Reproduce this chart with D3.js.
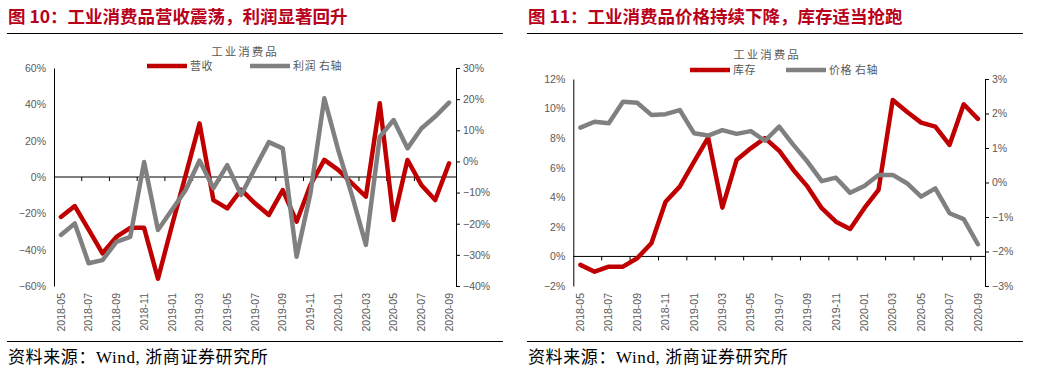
<!DOCTYPE html>
<html>
<head>
<meta charset="utf-8">
<script src="https://cdn.jsdelivr.net/npm/d3@7"></script>
<style>
  body { margin: 0; background: #fff; }
  svg { display: block; }
  .tick-label { font-family: 'Liberation Sans', Arial, sans-serif; fill: #595959; }
  .cn { font-family: 'Noto Sans CJK SC', sans-serif; }
</style>
</head>
<body>
<div id="chart"></div>
<script>
// month categories (shared by both charts)
const months = [
    '2018-05', '2018-06', '2018-07', '2018-08', '2018-09', '2018-10', '2018-11', '2018-12',
    '2019-01', '2019-02', '2019-03', '2019-04', '2019-05', '2019-06', '2019-07', '2019-08',
    '2019-09', '2019-10', '2019-11', '2019-12', '2020-01', '2020-02', '2020-03', '2020-04',
    '2020-05', '2020-06', '2020-07', '2020-08', '2020-09'
];
const monthLabels = months.filter((d, i) => i % 2 === 0);

// chart 10: revenue (left axis) and profit (right axis), %
const revenue = [-22, -16, -29, -42, -33, -28, -28, -56, -27, 1, 29.5, -12.7, -17.3, -7,
    -14.5, -20.9, -7.2, -24.6, -4.4, 9.4, 3.9, -3.5, -10.8, 40.6, -23.7, 9.4, -4.4, -12.7, 7.5];
const profit = [-23.6, -19.9, -32.7, -31.7, -25.8, -24.2, -0.2, -22, -15.6, -9.2, 0.3, -8.6, -1.2, -10.8,
    -2.2, 6.2, 4.2, -30.6, -10.2, 20.3, 3.7, -11, -26.8, 7.9, 13.3, 4.2, 10.6, 14.4, 18.9];
const leftTicks1 = [-60, -40, -20, 0, 20, 40, 60];
const rightTicks1 = [-40, -30, -20, -10, 0, 10, 20, 30];

// chart 11: inventory (left axis) and price (right axis), %
const inventory = [-0.57, -1.03, -0.69, -0.69, -0.12, 0.89, 3.7, 4.72, 6.4, 8.03, 3.3, 6.52, 7.31, 8.0,
    7.15, 5.85, 4.72, 3.26, 2.35, 1.86, 3.26, 4.5, 10.58, 9.79, 9.05, 8.78, 7.54, 10.29, 9.3];
const price = [1.59, 1.76, 1.72, 2.34, 2.31, 1.96, 1.98, 2.10, 1.43, 1.36, 1.52, 1.41, 1.49, 1.21,
    1.62, 1.09, 0.6, 0.04, 0.14, -0.3, -0.1, 0.22, 0.22, -0.02, -0.41, -0.17, -0.89, -1.06, -1.79];
const leftTicks2 = [-2, 0, 2, 4, 6, 8, 10, 12];
const rightTicks2 = [-3, -2, -1, 0, 1, 2, 3];

const RED = '#c00000';
const GRAY = '#808080';

const svg = d3.select('#chart').append('svg')
    .attr('width', 1039)
    .attr('height', 377);

const pct = d => (d < 0 ? '\u2212' : '') + Math.abs(d) + '%';

function drawPanel(cfg) {
    const g = svg.append('g').attr('transform', `translate(${cfg.x0},0)`);

    // figure title + rules
    g.append('text')
        .attr('class', 'cn')
        .attr('x', 8).attr('y', 23)
        .style('font-size', '17.5px').style('font-weight', 'bold')
        .attr('fill', '#b8001a')
        .text(cfg.title);
    g.append('line').attr('x1', 7).attr('x2', 503).attr('y1', 33.5).attr('y2', 33.5)
        .attr('stroke', '#000').attr('stroke-width', 1.2);
    g.append('line').attr('x1', 7).attr('x2', 503).attr('y1', 341.5).attr('y2', 341.5)
        .attr('stroke', '#000').attr('stroke-width', 1.2);
    g.append('text')
        .attr('x', 8).attr('y', 363)
        .style('font-family', "'Liberation Serif', 'Noto Sans CJK SC', serif")
        .style('font-size', '17px')
        .style('letter-spacing', '0.6px')
        .attr('fill', '#000')
        .text('资料来源：Wind, 浙商证券研究所');

    // scales
    const x = d3.scaleBand().domain(months).range([cfg.left, cfg.right]);
    const yL = d3.scaleLinear().domain(cfg.leftDomain).range([cfg.bottom, cfg.top]);
    const yR = d3.scaleLinear().domain(cfg.rightDomain).range([cfg.bottom, cfg.top]);
    const cx = d => x(d) + x.bandwidth() / 2;

    // left axis (line only, no ticks)
    const axL = g.append('g')
        .attr('transform', `translate(${cfg.left},0)`)
        .call(d3.axisLeft(yL).tickValues(cfg.leftTicks).tickSize(0).tickPadding(8).tickFormat(pct));
    axL.select('.domain').attr('stroke', '#000');
    axL.selectAll('text').attr('class', 'tick-label').style('font-size', '10.5px');

    // right axis with outward ticks
    const axR = g.append('g')
        .attr('transform', `translate(${cfg.right},0)`)
        .call(d3.axisRight(yR).tickValues(cfg.rightTicks).tickSizeInner(4).tickSizeOuter(4).tickPadding(3).tickFormat(pct));
    axR.selectAll('path, line').attr('stroke', '#000');
    axR.selectAll('text').attr('class', 'tick-label').style('font-size', '10.5px');

    // zero line with ticks every two categories
    const y0 = yL(0);
    g.append('line')
        .attr('x1', cfg.left).attr('x2', cfg.right)
        .attr('y1', y0).attr('y2', y0)
        .attr('stroke', '#000').attr('stroke-width', 1);
    g.selectAll('.xtick')
        .data(d3.range(2, months.length, 2))
        .join('line')
        .attr('class', 'xtick')
        .attr('x1', k => cfg.left + k * x.step()).attr('x2', k => cfg.left + k * x.step())
        .attr('y1', y0).attr('y2', y0 + 4)
        .attr('stroke', '#000');

    // rotated month labels at the bottom
    const axX = g.append('g')
        .attr('transform', `translate(0,${cfg.bottom + 6})`)
        .call(d3.axisBottom(x).tickValues(monthLabels).tickSize(0).tickPadding(0));
    axX.select('.domain').remove();
    axX.selectAll('text')
        .attr('class', 'tick-label')
        .style('font-size', '10.5px')
        .attr('transform', 'rotate(-90)')
        .attr('x', -1).attr('y', 0).attr('dy', '0.35em')
        .style('text-anchor', 'end');

    // lines
    const lineL = d3.line().x((d, i) => cx(months[i])).y(d => yL(d));
    const lineR = d3.line().x((d, i) => cx(months[i])).y(d => yR(d));
    g.append('path').datum(cfg.leftSeries)
        .attr('d', lineL).attr('fill', 'none').attr('stroke', RED)
        .attr('stroke-width', 4.5).attr('stroke-linejoin', 'round').attr('stroke-linecap', 'round');
    g.append('path').datum(cfg.rightSeries)
        .attr('d', lineR).attr('fill', 'none').attr('stroke', GRAY)
        .attr('stroke-width', 4.5).attr('stroke-linejoin', 'round').attr('stroke-linecap', 'round');

    // chart title + legend
    g.append('text')
        .attr('class', 'cn')
        .attr('x', cfg.chartTitleX).attr('y', cfg.chartTitleY)
        .attr('text-anchor', 'middle')
        .style('font-size', '11.5px').style('letter-spacing', '2px')
        .attr('fill', '#595959')
        .text('工业消费品');

    const legend = g.selectAll('.legend')
        .data(cfg.legend)
        .join('g')
        .attr('class', 'legend')
        .attr('transform', d => `translate(${d.x},${cfg.legendY})`);
    legend.append('line')
        .attr('x1', 0).attr('x2', 40).attr('y1', 0).attr('y2', 0)
        .attr('stroke', d => d.color).attr('stroke-width', 4.5);
    legend.append('text')
        .attr('class', 'cn')
        .attr('x', 43).attr('y', 0).attr('dy', '0.35em')
        .style('font-size', '11px').style('letter-spacing', '0.5px')
        .attr('fill', '#595959')
        .text(d => d.name);
}

drawPanel({
    x0: 0,
    title: '图 10：工业消费品营收震荡，利润显著回升',
    left: 54, right: 456, top: 68, bottom: 286,
    leftDomain: [-60, 60], rightDomain: [-40, 30],
    leftTicks: leftTicks1, rightTicks: rightTicks1,
    leftSeries: revenue, rightSeries: profit,
    chartTitleX: 245, chartTitleY: 56, legendY: 66,
    legend: [{ name: '营收', color: RED, x: 147 }, { name: '利润 右轴', color: GRAY, x: 250 }]
});

drawPanel({
    x0: 520,
    title: '图 11：工业消费品价格持续下降，库存适当抢跑',
    left: 53.3, right: 465, top: 79, bottom: 286,
    leftDomain: [-2, 12], rightDomain: [-3, 3],
    leftTicks: leftTicks2, rightTicks: rightTicks2,
    leftSeries: inventory, rightSeries: price,
    chartTitleX: 247, chartTitleY: 59, legendY: 70,
    legend: [{ name: '库存', color: RED, x: 170 }, { name: '价格 右轴', color: GRAY, x: 266 }]
});
</script>
</body>
</html>
